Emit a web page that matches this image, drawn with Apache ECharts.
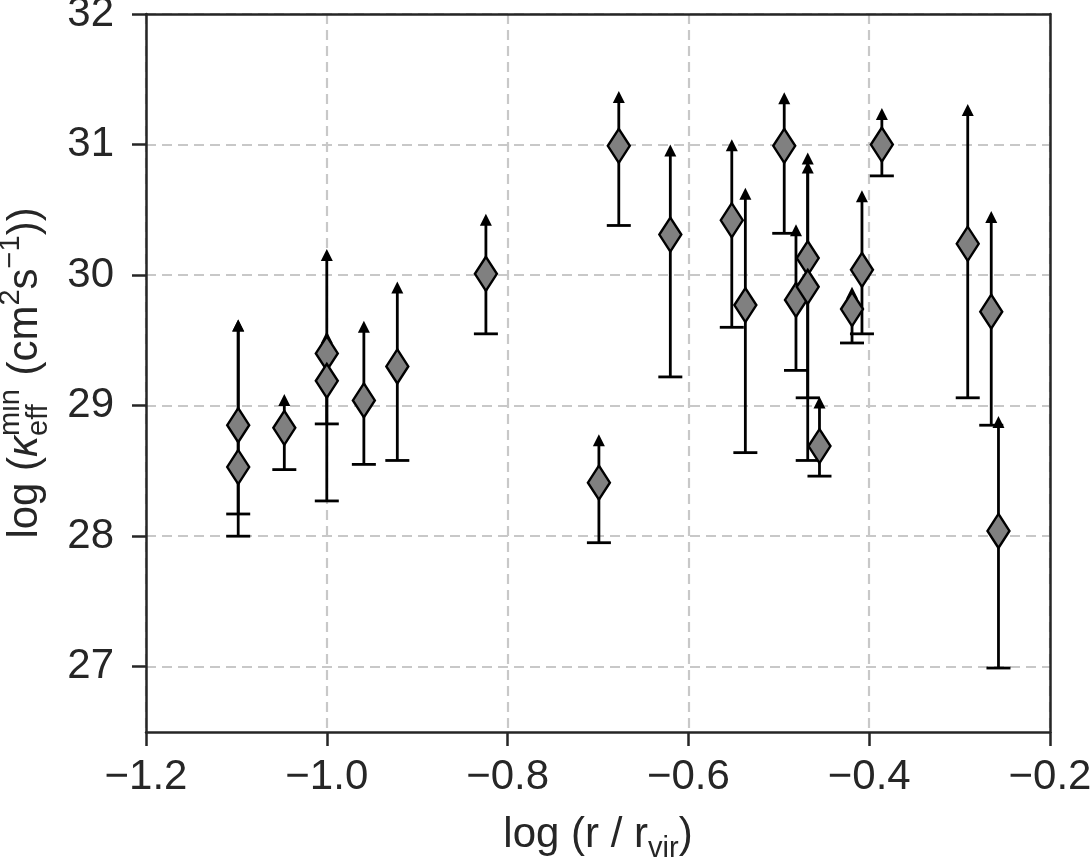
<!DOCTYPE html>
<html>
<head>
<meta charset="utf-8">
<script src="https://cdn.jsdelivr.net/npm/echarts@6/dist/echarts.min.js"></script>
<style>html,body{margin:0;padding:0;background:#fff}#c{width:1091px;height:859px}</style>
</head>
<body>
<div id="c"></div>
<script>
// ---- data ----
const xVals     = [-1.098, -1.098, -1.047, -1.000, -1.000, -0.959, -0.922, -0.824, -0.699, -0.677, -0.620, -0.552, -0.537, -0.494, -0.481, -0.468, -0.468, -0.455, -0.419, -0.408, -0.386, -0.291, -0.265, -0.257];
const yVals     = [28.85, 28.53, 28.83, 29.40, 29.19, 29.04, 29.30, 30.01, 28.41, 30.99, 30.31, 30.42, 29.77, 30.99, 29.81, 30.13, 29.91, 28.69, 29.74, 30.04, 31.00, 30.24, 29.72, 28.04];
const lowerVals = [28.17, 28.00, 28.51, 28.86, 28.27, 28.55, 28.58, 29.55, 27.95, 30.38, 29.22, 29.60, 28.64, 30.32, 29.27, 29.06, 28.58, 28.46, 29.48, 29.55, 30.76, 29.06, 28.85, 26.99];
const upperVals = [29.66, 29.66, 29.09, 29.57, 30.20, 29.65, 29.95, 30.47, 28.78, 31.41, 31.00, 31.04, 30.67, 31.40, 30.39, 30.94, 30.87, 29.07, 29.91, 30.65, 31.28, 31.31, 30.49, 28.92];
const xTicks = [-1.2, -1.0, -0.8, -0.6, -0.4, -0.2];
const yTicks = [27, 28, 29, 30, 31, 32];

// ---- styling ----
const FONT = "'Liberation Sans', Arial, Helvetica, sans-serif";
const FS = 42;
const SUB = Math.round(FS * 0.7);
const INK = '#262626';
const GRID = {left: 146, right: 41, top: 14, bottom: 127};
const SPINE = {color: INK, width: 2.5};
const GRIDLINE = {color: '#c8c8c8', width: 2.2, type: [10, 6]};

const ctx = document.createElement('canvas').getContext('2d');
function tw(text, size, italic) {
  ctx.font = (italic ? 'italic ' : '') + size + 'px ' + FONT;
  return ctx.measureText(text).width;
}
function layout(pieces) {
  const out = [];
  let x = 0;
  pieces.forEach(p => {
    if (p.stack) {
      let w = 0;
      p.stack.forEach(q => {
        out.push({t: q.t, s: q.s, it: q.it, x: x, dy: q.dy || 0});
        w = Math.max(w, tw(q.t, q.s, q.it));
      });
      x += w;
    } else {
      out.push({t: p.t, s: p.s, it: p.it, x: x + (p.dx || 0), dy: p.dy || 0});
      x += tw(p.t, p.s, p.it) + (p.dx || 0);
    }
  });
  return {items: out, width: x};
}
function toTexts(items) {
  return items.map(it => ({
    type: 'text',
    x: it.x,
    y: it.dy - 0.3465 * it.s,
    style: {
      text: it.t, fontSize: it.s, fontFamily: FONT,
      fontStyle: it.it ? 'italic' : 'normal',
      fill: INK, align: 'left', verticalAlign: 'middle'
    }
  }));
}
const RAISE = 0.45 * FS, DROP = 0.22 * FS;
const yTitle = layout([
  {t: 'log (', s: FS},
  {t: 'κ', s: FS, it: true},
  {stack: [{t: 'min', s: SUB, dy: -RAISE}, {t: 'eff', s: SUB, dy: DROP}]},
  {t: ' (cm', s: FS, dx: 2},
  {t: '2', s: SUB, dy: -RAISE},
  {t: 's', s: FS},
  {t: '−1', s: SUB, dy: -RAISE},
  {t: '))', s: FS}
]);
const xTitle = layout([
  {t: 'log (r / r', s: FS},
  {t: 'vir', s: SUB, dy: DROP},
  {t: ')', s: FS}
]);
const plotCx = GRID.left + (1091 - GRID.left - GRID.right) / 2;
const plotCy = GRID.top + (859 - GRID.top - GRID.bottom) / 2;

const chart = echarts.init(document.getElementById('c'), null, {renderer: 'canvas'});
const errData = xVals.map((x, i) => [x, lowerVals[i], upperVals[i]]);
const ptData = xVals.map((x, i) => [x, yVals[i]]);

const xMin = xTicks[0], xMax = xTicks[xTicks.length - 1];
chart.setOption({
  animation: false,
  backgroundColor: '#fff',
  grid: {left: GRID.left, right: GRID.right, top: GRID.top, bottom: GRID.bottom, show: false,
         containLabel: false, outerBoundsMode: 'none'},
  xAxis: [{
    type: 'value', min: xMin, max: xMax, interval: 0.2,
    axisLine: {show: true, onZero: false, lineStyle: SPINE},
    axisTick: {show: true, length: 14, lineStyle: SPINE},
    axisLabel: {show: true, margin: 24, color: INK, fontFamily: FONT, fontSize: FS,
                showMinLabel: true, showMaxLabel: true,
                formatter: v => v.toFixed(1).replace('-', '\u2212')},
    splitLine: {show: true, lineStyle: GRIDLINE}
  }, {
    type: 'value', position: 'top', min: xMin, max: xMax, interval: 0.2,
    axisLine: {show: true, onZero: false, lineStyle: SPINE},
    axisTick: {show: false}, axisLabel: {show: false}, splitLine: {show: false}
  }],
  yAxis: [{
    type: 'value', min: 26.5, max: 32,
    axisLine: {show: true, onZero: false, lineStyle: SPINE},
    axisTick: {show: true, length: 14, customValues: yTicks, lineStyle: SPINE},
    axisLabel: {show: true, margin: 32, color: INK, fontFamily: FONT, fontSize: FS,
                customValues: yTicks, formatter: v => String(Math.round(v))},
    splitLine: {show: true, lineStyle: GRIDLINE}
  }, {
    type: 'value', position: 'right', min: 26.5, max: 32,
    axisLine: {show: true, onZero: false, lineStyle: SPINE},
    axisTick: {show: false}, axisLabel: {show: false}, splitLine: {show: false}
  }],
  series: [
    {
      type: 'custom', data: errData, encode: {x: 0, y: [1, 2]}, z: 3,
      renderItem: function (params, api) {
        const x = api.value(0), lo = api.value(1), up = api.value(2);
        const pLo = api.coord([x, lo]);
        const pUp = api.coord([x, up]);
        const ah = 12, aw = 12, cw = 24, lw = 2.8;
        return {
          type: 'group',
          children: [
            {type: 'line', shape: {x1: pLo[0], y1: pLo[1], x2: pUp[0], y2: pUp[1] + ah * 0.6},
             style: {stroke: '#000', lineWidth: lw}},
            {type: 'line', shape: {x1: pLo[0] - cw / 2, y1: pLo[1], x2: pLo[0] + cw / 2, y2: pLo[1]},
             style: {stroke: '#000', lineWidth: lw}},
            {type: 'polygon', shape: {points: [[pUp[0], pUp[1]], [pUp[0] - aw / 2, pUp[1] + ah], [pUp[0] + aw / 2, pUp[1] + ah]]},
             style: {fill: '#000'}}
          ]
        };
      }
    },
    {
      type: 'scatter', data: ptData, z: 4,
      symbol: 'diamond', symbolSize: [22, 34],
      itemStyle: {color: '#808080', borderColor: '#000', borderWidth: 2.5, opacity: 1}
    }
  ],
  graphic: [
    {type: 'group', rotation: Math.PI / 2, x: 40, y: plotCy + yTitle.width / 2,
     children: toTexts(yTitle.items)},
    {type: 'group', x: plotCx - xTitle.width / 2, y: 850,
     children: toTexts(xTitle.items)}
  ]
});
</script>
</body>
</html>
